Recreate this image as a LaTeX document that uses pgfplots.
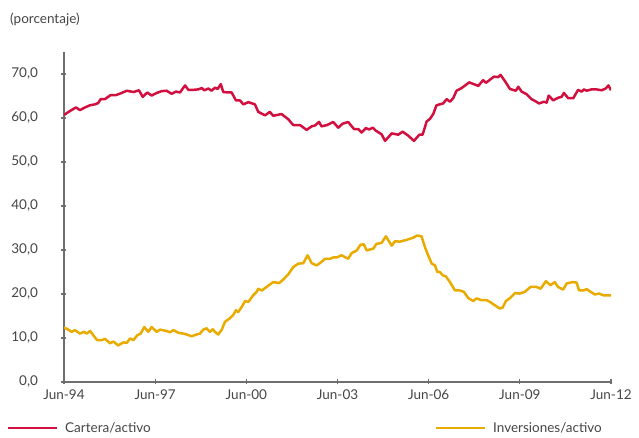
\documentclass[border=0pt]{standalone}
\usepackage{fontspec}
\setmainfont{Lato}
\usepackage{pgfplots}
\pgfplotsset{compat=1.18}
\definecolor{cartera}{HTML}{D2103F}
\definecolor{inver}{HTML}{EAAB00}
\definecolor{txt}{HTML}{454545}
\definecolor{axl}{HTML}{6E6E6E}
\begin{document}
\begin{tikzpicture}[x=1pt,y=1pt]
\useasboundingbox (-64,-56) rectangle (575,382);
\begin{axis}[
  at={(0,0)}, anchor=origin,
  scale only axis, width=547pt, height=330pt,
  xmin=0, xmax=216, ymin=0, ymax=75,
  axis x line=bottom, axis y line=left,
  axis line style={-, axl, line width=1.4pt},
  tick style={axl, line width=1.2pt},
  major tick length=5pt,
  xtick={0,36,72,108,144,180,216},
  xticklabels={Jun-94,Jun-97,Jun-00,Jun-03,Jun-06,Jun-09,Jun-12},
  ytick={0,10,20,30,40,50,60,70},
  yticklabel style={xshift=-20pt},
  xticklabel style={yshift=-2pt},
  ticklabel style={font=\fontsize{13.5}{15}\selectfont, text=txt},
  /pgf/number format/.cd, fixed, fixed zerofill, precision=1, use comma, assume math mode=true,
]
\addplot[cartera, line width=2.5pt, line join=round] coordinates {
(0,60.7)(2.4,61.6)(4.7,62.4)(6.3,61.8)(8.3,62.4)(10.3,62.9)(12.2,63.1)(13.5,63.4)(14.5,64.3)(16.2,64.3)(18.4,65.2)(20.5,65.2)(22.8,65.7)(24.8,66.2)(27.4,65.9)(29.6,66.3)(31.1,64.8)(32.9,65.8)(34.6,65.1)(36.6,65.7)(38.6,66.1)(40.5,66.2)(42.5,65.5)(44.2,66.0)(45.8,65.8)(47.8,67.4)(49.1,66.4)(51.0,66.4)(53.0,66.5)(54.4,66.8)(55.4,66.3)(57.0,66.7)(58.3,66.2)(59.6,66.9)(60.7,66.6)(61.9,67.7)(62.9,65.9)(64.9,65.8)(66.2,65.8)(67.9,64.0)(69.5,64.0)(70.8,63.1)(72.8,63.6)(75.4,63.1)(76.7,61.4)(79.4,60.6)(81.3,61.4)(82.6,60.5)(85.9,60.9)(88.6,59.7)(90.5,58.4)(93.2,58.4)(95.8,57.3)(97.8,58.1)(99.1,58.3)(100.7,59.1)(101.7,58.1)(103.9,58.4)(106.3,59.1)(108.3,57.8)(110.0,58.7)(112.2,59.1)(114.5,57.5)(116.2,57.5)(117.5,56.7)(119.2,57.7)(120.5,57.4)(121.9,57.8)(123.2,57.1)(125.4,56.3)(126.8,54.8)(129.4,56.5)(132.0,56.2)(133.7,56.9)(135.9,56.0)(138.2,54.8)(140.3,56.2)(141.6,56.2)(143.2,59.2)(144.5,59.8)(145.8,60.9)(147.1,62.9)(149.7,63.3)(151.1,64.3)(152.4,63.7)(153.7,64.5)(155.0,66.2)(157.0,66.8)(160.0,68.1)(163.6,67.3)(165.5,68.6)(166.6,68.0)(168.2,68.7)(169.8,69.4)(171.5,69.3)(172.4,69.8)(174.1,68.4)(176.1,66.6)(178.4,66.2)(179.4,67.1)(180.7,66.0)(182.7,65.4)(184.6,64.3)(185.9,63.9)(187.6,63.3)(189.5,63.7)(190.6,63.5)(191.4,65.1)(193.2,64.0)(195.1,64.6)(196.5,64.8)(197.4,65.7)(199.1,64.5)(201.1,64.5)(203.0,66.4)(204.4,66.0)(205.3,66.5)(206.4,66.2)(208.3,66.5)(210.3,66.5)(212.3,66.3)(213.9,66.7)(215.0,67.4)(216.0,66.3)
};
\addplot[inver, line width=2.5pt, line join=round] coordinates {
(0,12.4)(1.7,11.9)(3.0,11.4)(4.3,11.8)(6.3,11.0)(7.9,11.4)(9.0,11.0)(10.3,11.6)(11.6,10.6)(13.1,9.5)(14.9,9.5)(16.2,9.8)(18.2,8.8)(19.5,9.2)(21.4,8.3)(23.4,9.0)(24.8,8.9)(26.1,9.9)(27.4,9.5)(28.9,10.6)(30.3,11.0)(31.7,12.5)(33.3,11.4)(34.6,12.5)(36.6,11.4)(37.9,11.9)(40.5,11.6)(41.8,11.3)(43.2,11.8)(45.1,11.2)(47.1,11.0)(48.4,10.8)(50.4,10.4)(52.4,10.8)(53.7,11.0)(55.0,11.9)(56.3,12.2)(57.6,11.4)(58.7,12.0)(59.6,11.4)(60.9,10.8)(62.3,11.9)(63.6,13.7)(65.3,14.4)(66.8,15.2)(67.9,16.3)(68.8,15.9)(70.2,17.1)(71.5,18.4)(72.8,18.2)(74.7,19.7)(76.1,20.5)(76.7,21.2)(78.1,20.8)(80.0,21.6)(82.6,22.7)(85.0,22.5)(86.6,23.3)(88.6,24.5)(90.5,26.1)(92.5,26.9)(94.5,27.0)(96.2,28.8)(97.8,27.0)(99.8,26.5)(101.7,27.3)(103.0,28.0)(105.0,28.0)(106.3,28.3)(107.7,28.3)(109.6,28.8)(112.2,28.0)(113.6,29.3)(115.6,29.9)(117.1,31.2)(118.4,31.3)(119.5,29.9)(122.1,30.3)(123.4,31.4)(125.4,31.6)(127.1,33.1)(129.4,31.0)(130.7,32.0)(132.6,31.9)(135.3,32.3)(137.9,32.8)(139.5,33.3)(141.2,33.1)(142.5,30.7)(143.8,28.8)(145.2,26.9)(146.5,26.5)(147.4,25.0)(148.4,25.0)(149.7,24.2)(150.8,24.0)(152.4,22.7)(154.4,20.8)(156.3,20.8)(157.9,20.5)(159.6,19.1)(161.6,18.4)(162.9,19.0)(164.9,18.6)(166.9,18.6)(168.2,18.2)(170.2,17.4)(172.1,16.7)(173.2,16.9)(174.5,18.4)(176.4,19.2)(178.1,20.2)(180.0,20.1)(182.0,20.5)(184.2,21.6)(186.6,21.6)(188.2,21.2)(190.3,22.9)(192.1,22.0)(193.8,22.7)(195.1,21.6)(197.1,21.0)(198.5,22.4)(200.8,22.7)(202.4,22.6)(203.4,20.8)(205.0,20.8)(206.4,21.1)(207.7,20.6)(209.6,19.9)(211.3,20.1)(213.0,19.7)(214.9,19.7)(216.0,19.7)
};
\end{axis}
\node[anchor=west, text=txt, font=\fontsize{13.5}{15}\selectfont, inner sep=0pt] at (-54,362) {(porcentaje)};
\draw[cartera, line width=2.5pt] (-56,-46) -- (-7,-46);
\node[anchor=west, text=txt, font=\fontsize{13.5}{15}\selectfont, inner sep=0pt] at (1,-46) {Cartera/activo};
\draw[inver, line width=2.5pt] (372,-46) -- (421,-46);
\node[anchor=west, text=txt, font=\fontsize{13.5}{15}\selectfont, inner sep=0pt] at (429,-46) {Inversiones/activo};
\end{tikzpicture}
\end{document}
